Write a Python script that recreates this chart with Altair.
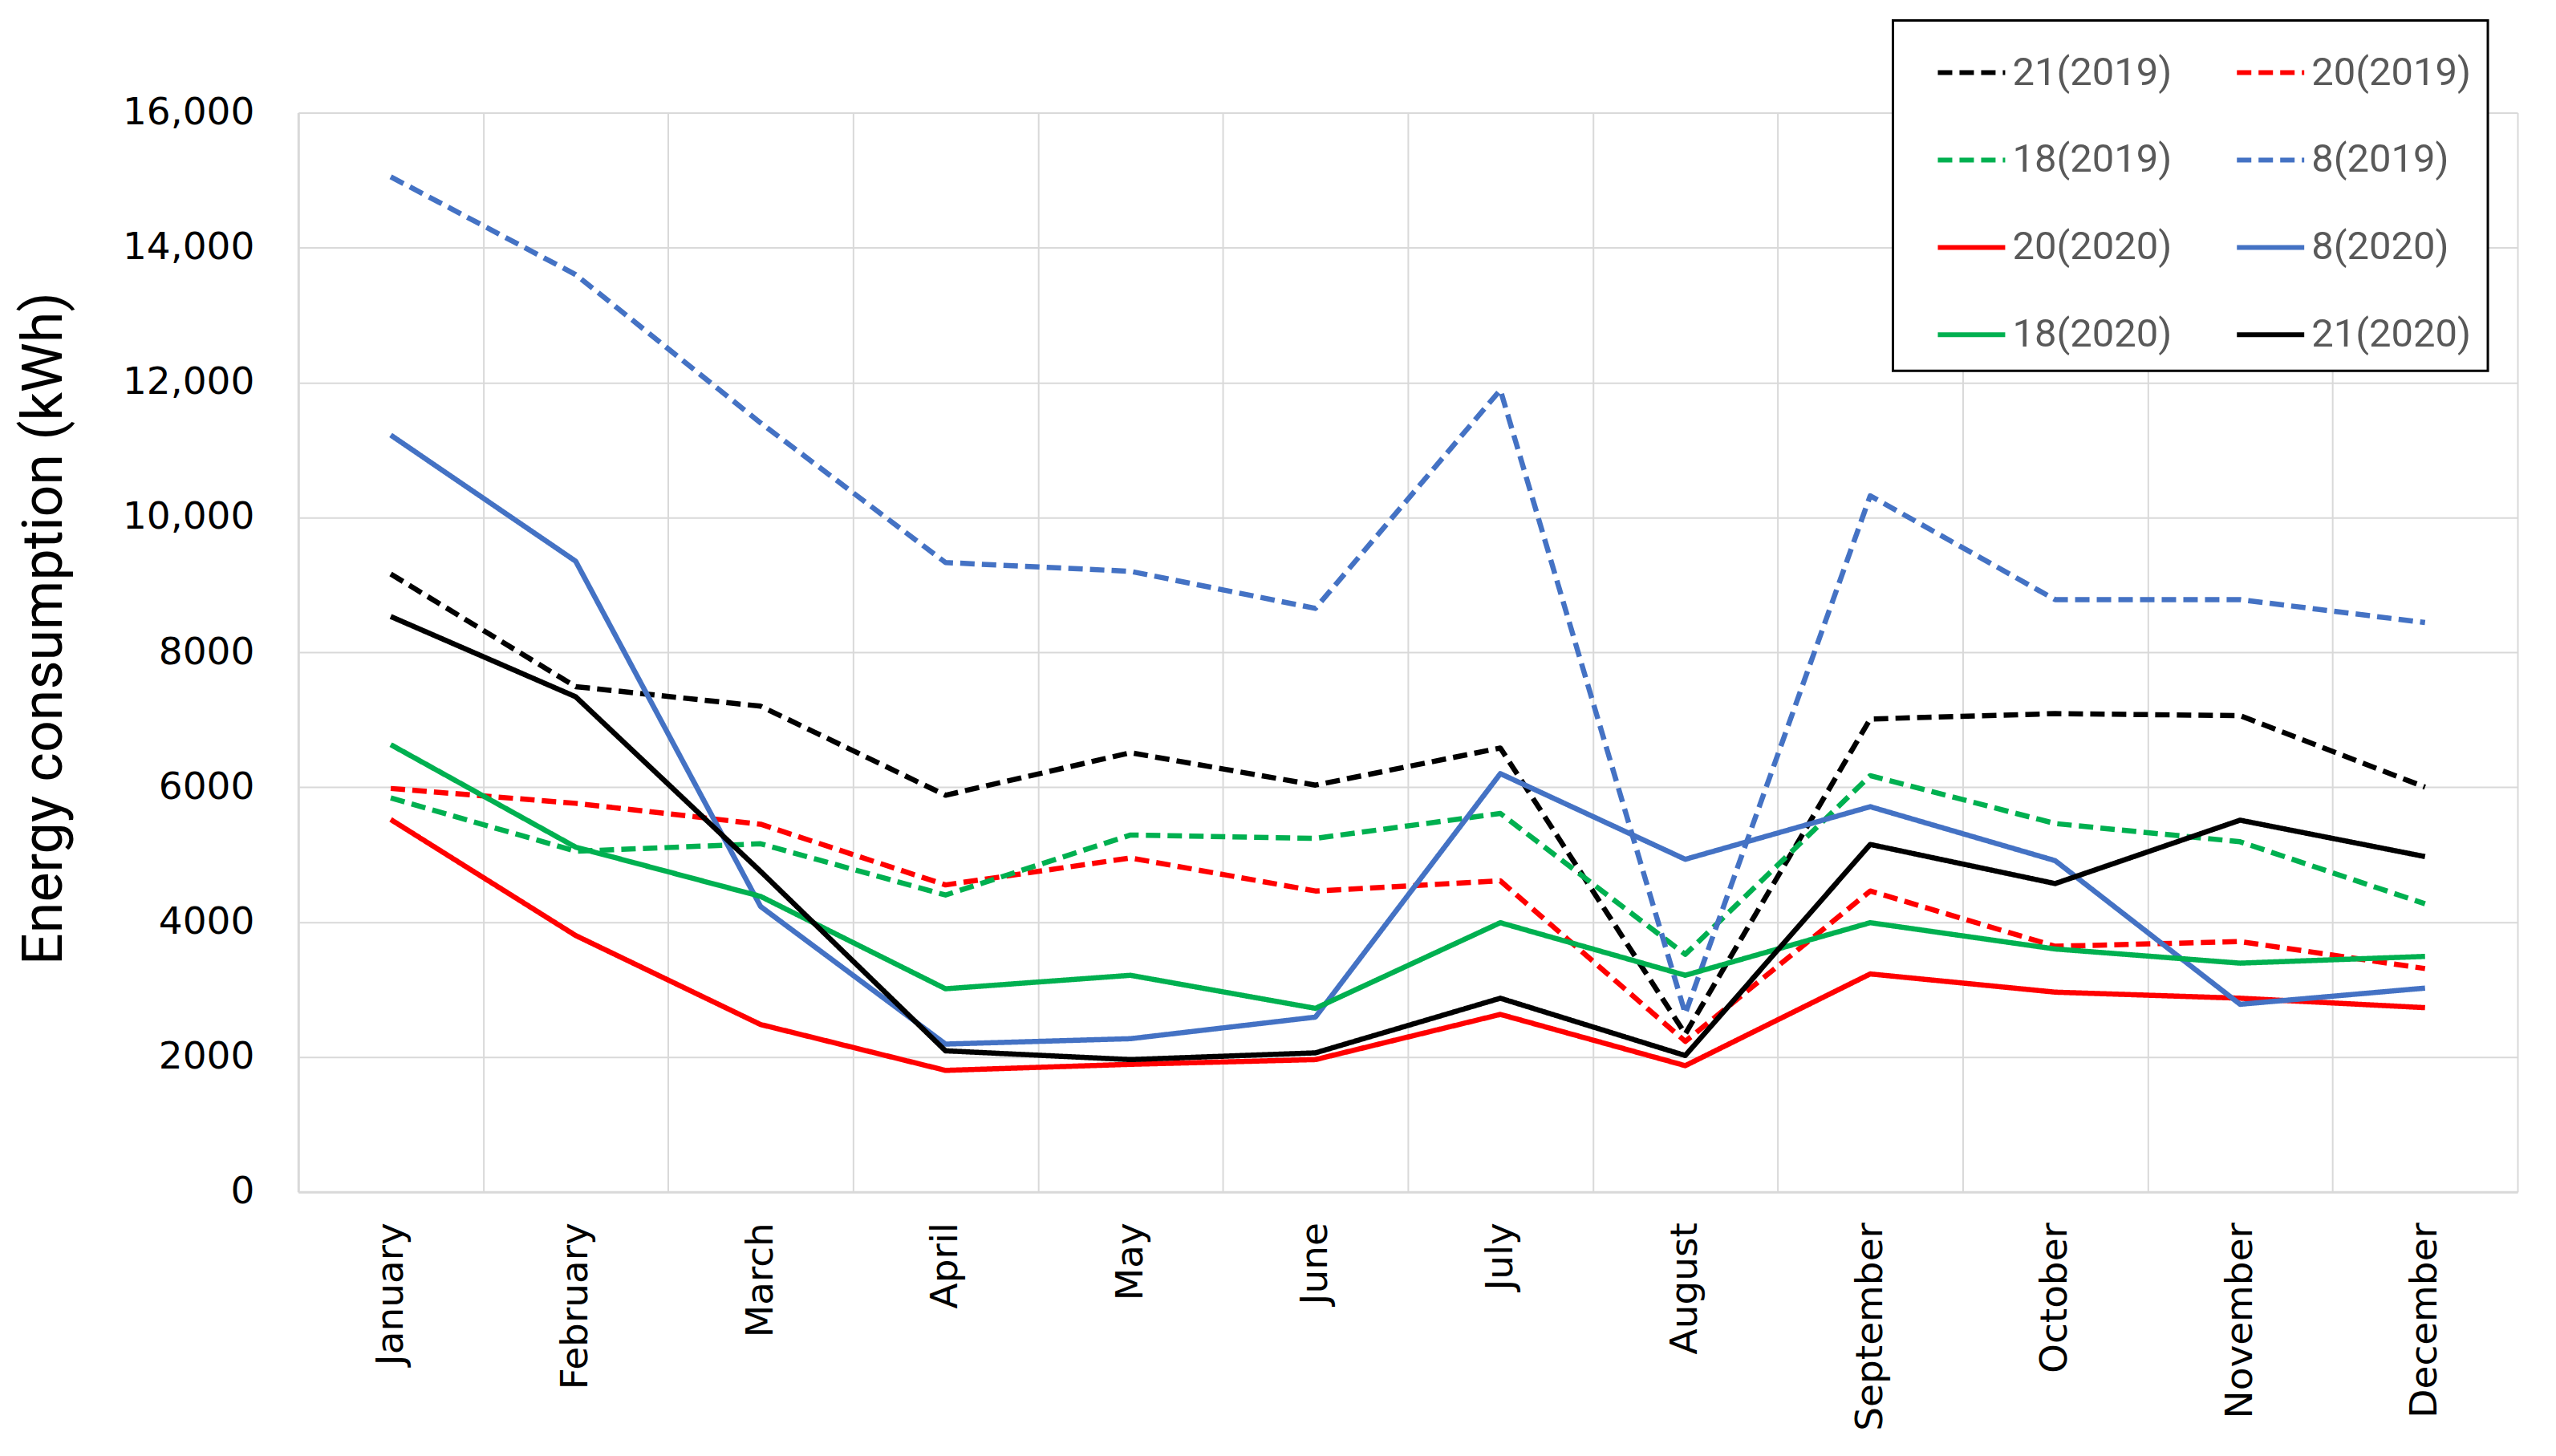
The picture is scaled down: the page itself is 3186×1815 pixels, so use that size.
import altair as alt
import pandas as pd

months = ["January", "February", "March", "April", "May", "June", "July",
          "August", "September", "October", "November", "December"]

# legend is filled column by column, so this order gives the reference's rows
series = ["21(2019)", "18(2019)", "20(2020)", "18(2020)",
          "20(2019)", "8(2019)", "8(2020)", "21(2020)"]
colors = ["#000000", "#00B050", "#FF0000", "#00B050",
          "#FF0000", "#4472C4", "#4472C4", "#000000"]
dashes = [[18, 9], [18, 9], [1, 0], [1, 0], [18, 9], [18, 9], [1, 0], [1, 0]]

values_by_series = {
    "21(2019)": [9160, 7490, 7200, 5880, 6510, 6030, 6580, 2340, 7010, 7090, 7060, 6000],
    "20(2019)": [5980, 5760, 5450, 4550, 4950, 4460, 4610, 2230, 4460, 3640, 3710, 3310],
    "18(2019)": [5840, 5050, 5160, 4400, 5290, 5240, 5610, 3520, 6170, 5460, 5190, 4270],
    "8(2019)": [15050, 13600, 11400, 9330, 9200, 8650, 11890, 2640, 10320, 8780, 8780, 8440],
    "20(2020)": [5520, 3800, 2480, 1800, 1890, 1960, 2630, 1870, 3230, 2960, 2870, 2730],
    "8(2020)": [11220, 9350, 4230, 2190, 2270, 2590, 6200, 4930, 5710, 4910, 2780, 3020],
    "18(2020)": [6630, 5110, 4380, 3010, 3210, 2720, 3990, 3210, 3990, 3600, 3390, 3490],
    "21(2020)": [8530, 7340, 4750, 2090, 1960, 2060, 2870, 2020, 5150, 4570, 5510, 4970],
}

rows = []
for name, vals in values_by_series.items():
    for m, v in zip(months, vals):
        rows.append({"series": name, "month": m, "value": v})
df = pd.DataFrame(rows)

narrow = "Liberation Sans Narrow, Roboto, sans-serif"

legend = alt.Legend(
    title=None,
    orient="none",
    legendX=1989,
    legendY=-115,
    columns=2,
    columnPadding=44,
    rowPadding=39,
    symbolType="stroke",
    symbolSize=7056,
    symbolStrokeWidth=6,
    symbolOffset=33,
    labelOffset=6,
    labelLimit=0,
    labelFont=narrow,
    labelFontSize=49,
    labelColor="#595959",
    fillColor="#FFFFFF",
    strokeColor="#000000",
    padding=20,
)

chart = alt.Chart(df).mark_line(strokeWidth=6.5, strokeJoin="round").encode(
    x=alt.X(
        "month:O",
        sort=months,
        bandPosition=0.5,
        scale=alt.Scale(type="band", paddingInner=0, paddingOuter=0),
        axis=alt.Axis(
            title=None,
            labelAngle=-90,
            labelAlign="right",
            labelBaseline="middle",
            labelLimit=0,
            tickBand="extent",
            ticks=False,
            labelPadding=38,
            labelFont="DejaVu Sans",
            labelFontSize=47,
            labelColor="#000000",
            grid=True,
            gridColor="#D9D9D9",
            gridWidth=2,
            domainColor="#D9D9D9",
            domainWidth=3,
        ),
    ),
    y=alt.Y(
        "value:Q",
        scale=alt.Scale(domain=[0, 16000], nice=False),
        axis=alt.Axis(
            values=list(range(0, 16001, 2000)),
            labelExpr="datum.value >= 10000 ? format(datum.value, ',') : format(datum.value, 'd')",
            ticks=False,
            labelLimit=0,
            labelPadding=55,
            labelFont="DejaVu Sans",
            labelFontSize=47,
            labelColor="#000000",
            grid=True,
            gridColor="#D9D9D9",
            gridWidth=2,
            domainColor="#D9D9D9",
            domainWidth=3,
            title="Energy consumption (kWh)",
            titleFont=narrow,
            titleFontSize=70,
            titleFontWeight="normal",
            titleColor="#000000",
            titleAngle=270,
            titleX=-316,
            titleY=643,
            titleAlign="center",
            titleBaseline="middle",
            titleLimit=0,
        ),
    ),
    color=alt.Color("series:N", scale=alt.Scale(domain=series, range=colors), legend=legend),
    strokeDash=alt.StrokeDash("series:N", scale=alt.Scale(domain=series, range=dashes), legend=legend),
).properties(
    width=2768,
    height=1346,
    autosize="none",
    padding={"left": 364, "top": 132, "right": 40, "bottom": 320},
    background="#FFFFFF",
).configure_view(stroke=None).configure_legend(strokeWidth=3)

chart.save("out.html", embed_options={"renderer": "svg", "actions": False})
